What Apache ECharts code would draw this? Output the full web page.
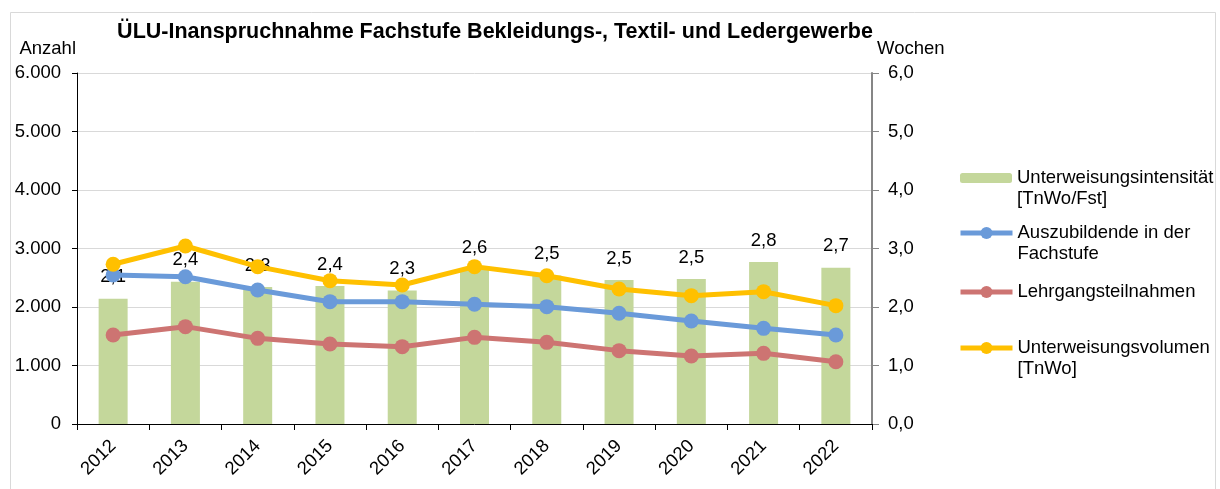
<!DOCTYPE html>
<html>
<head>
<meta charset="utf-8">
<script src="https://cdn.jsdelivr.net/npm/echarts@6/dist/echarts.min.js"></script>
<style>
html,body{margin:0;padding:0;background:#fff;}
#chart{width:1220px;height:489px;}
</style>
</head>
<body>
<div id="chart"></div>
<script>
const years = ['2012','2013','2014','2015','2016','2017','2018','2019','2020','2021','2022'];
const intensitaet = [2.14, 2.43, 2.34, 2.36, 2.28, 2.64, 2.54, 2.46, 2.48, 2.77, 2.67];
const auszubildende = [2547, 2518, 2291, 2091, 2091, 2046, 2006, 1892, 1761, 1635, 1521];
const lehrgang = [1521, 1664, 1464, 1368, 1322, 1481, 1396, 1254, 1162, 1208, 1065];
const volumen = [2730, 3043, 2690, 2450, 2376, 2690, 2535, 2308, 2194, 2262, 2023];
const leftTicks = {min: 0, max: 6000, interval: 1000};
const rightTicks = {min: 0, max: 6, interval: 1};

const names = {
  bar: 'Unterweisungsintensität\n[TnWo/Fst]',
  blue: 'Auszubildende in der\nFachstufe',
  red: 'Lehrgangsteilnahmen',
  yellow: 'Unterweisungsvolumen\n[TnWo]'
};
const FONT = 'Liberation Sans, Arial, sans-serif';
const FS = 18.5;
const chart = echarts.init(document.getElementById('chart'), null, {renderer: 'canvas'});

function fmtThousands(v){ return String(v).replace(/\B(?=(\d{3})+(?!\d))/g, '.'); }
function fmtComma(v){ return Number(v).toFixed(1).replace('.', ','); }

function legendFor(name, left, top, height, twoLine){
  return {
    show: true,
    data: [name],
    left: left, top: top, padding: 0,
    itemWidth: 52, itemHeight: height,
    formatter: twoLine ? (n => '\n' + n) : (n => n),
    textStyle: {fontFamily: FONT, fontSize: FS, color: '#000', lineHeight: 21},
    lineStyle: {width: 5},
    selectedMode: false
  };
}

const option = {
  animation: false,
  backgroundColor: '#fff',
  textStyle: {fontFamily: FONT},
  graphic: [{
    type: 'rect', shape: {x: 10.5, y: 12.5, width: 1205, height: 500},
    style: {fill: 'none', stroke: '#d9d9d9', lineWidth: 1}, silent: true, z: -10
  }],
  title: {
    text: 'ÜLU-Inanspruchnahme Fachstufe Bekleidungs-, Textil- und Ledergewerbe',
    left: 490, top: 16, textAlign: 'center',
    textStyle: {fontFamily: FONT, fontSize: 21.5, fontWeight: 'bold', color: '#000'}
  },
  legend: [
    legendFor(names.bar, 960, 146.5, 10, true),
    legendFor(names.blue, 958, 201.5, 15, true),
    legendFor(names.red, 958, 281.5, 15, false),
    legendFor(names.yellow, 958, 316.5, 15, true)
  ],
  grid: {left: 77, right: 348, top: 73, bottom: 65, containLabel: false},
  xAxis: {
    type: 'category', data: years, boundaryGap: true,
    axisLine: {lineStyle: {color: '#000', width: 1}},
    axisTick: {show: true, length: 6, lineStyle: {color: '#000'}},
    axisLabel: {rotate: 45, margin: 19, fontSize: FS, color: '#000', fontFamily: FONT},
    splitLine: {show: false}
  },
  yAxis: [{
    type: 'value', position: 'left',
    min: leftTicks.min, max: leftTicks.max, interval: leftTicks.interval,
    name: 'Anzahl', nameLocation: 'end', nameGap: 15,
    nameTextStyle: {fontFamily: FONT, fontSize: FS, color: '#000', align: 'right', padding: [0, 1, 0, 0]},
    axisLine: {show: true, lineStyle: {color: '#000', width: 1}},
    axisTick: {show: true, length: 5, lineStyle: {color: '#000'}},
    axisLabel: {fontSize: FS, color: '#000', margin: 16, fontFamily: FONT, formatter: fmtThousands},
    splitLine: {show: true, lineStyle: {color: '#d9d9d9', width: 1}}
  }, {
    type: 'value', position: 'right',
    min: rightTicks.min, max: rightTicks.max, interval: rightTicks.interval,
    name: 'Wochen', nameLocation: 'end', nameGap: 15,
    nameTextStyle: {fontFamily: FONT, fontSize: FS, color: '#000', align: 'left', padding: [0, 0, 0, 5]},
    axisLine: {show: true, lineStyle: {color: '#868686', width: 2}},
    axisTick: {show: true, length: 7, lineStyle: {color: '#868686'}},
    axisLabel: {fontSize: FS, color: '#000', margin: 16, fontFamily: FONT, formatter: fmtComma},
    splitLine: {show: false}
  }],
  series: [{
    name: names.bar, type: 'bar', yAxisIndex: 1, data: intensitaet,
    barWidth: 29,
    itemStyle: {color: '#c4d79b'},
    label: {show: true, position: 'top', distance: 12, fontSize: FS, color: '#000', fontFamily: FONT, formatter: p => fmtComma(p.value)},
    z: 1
  }, {
    name: names.blue, type: 'line', yAxisIndex: 0, data: auszubildende,
    symbol: 'circle', symbolSize: 15,
    lineStyle: {color: '#6a9ad9', width: 5},
    itemStyle: {color: '#6a9ad9'}, z: 3
  }, {
    name: names.red, type: 'line', yAxisIndex: 0, data: lehrgang,
    symbol: 'circle', symbolSize: 15,
    lineStyle: {color: '#cd7472', width: 5},
    itemStyle: {color: '#cd7472'}, z: 3
  }, {
    name: names.yellow, type: 'line', yAxisIndex: 0, data: volumen,
    symbol: 'circle', symbolSize: 15,
    lineStyle: {color: '#ffc000', width: 5},
    itemStyle: {color: '#ffc000'}, z: 4
  }]
};
chart.setOption(option);
</script>
</body>
</html>
